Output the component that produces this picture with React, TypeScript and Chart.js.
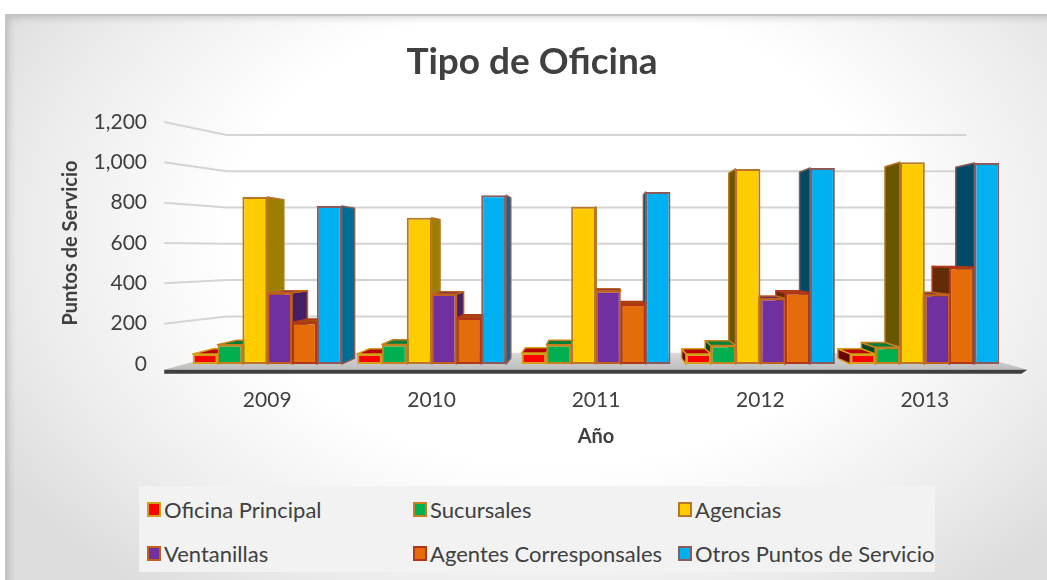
import React, { useEffect, useRef } from "react";
import { Chart, registerables } from "chart.js";

Chart.register(...registerables);

const FONT = "Lato, 'Open Sans', sans-serif";

const years = ["2009", "2010", "2011", "2012", "2013"];
const seriesNames = [
  "Oficina Principal",
  "Sucursales",
  "Agencias",
  "Ventanillas",
  "Agentes Corresponsales",
  "Otros Puntos de Servicio",
];
const oficinaPrincipal = [50, 50, 55, 50, 50];
const sucursales = [95, 97, 95, 92, 83];
const agencias = [828, 725, 780, 967, 1000];
const ventanillas = [353, 347, 363, 325, 345];
const agentesCorresponsales = [206, 228, 297, 353, 480];
const otrosPuntos = [783, 837, 853, 972, 997];
const yTicks = [0, 200, 400, 600, 800, 1000, 1200];

const seriesValues = [
  oficinaPrincipal,
  sucursales,
  agencias,
  ventanillas,
  agentesCorresponsales,
  otrosPuntos,
];
const fills = ["#FF0000", "#00B050", "#FFCC00", "#7030A0", "#E46C0A", "#00B0F0"];
const borders = ["#D4A017", "#C8801E", "#B8762A", "#C0601A", "#B0361A", "#8C5A5A"];

// perspective style constants
const VP_X = 0.505;
const VP_Y = 0.533;
const BAR_D = 0.05;
const WALL_D = 0.1;
const FLOOR_D = -0.05;

const shade = (hex: string, f: number) => {
  const n = parseInt(hex.slice(1), 16);
  const r = (n >> 16) & 255,
    g = (n >> 8) & 255,
    b = n & 255;
  return `rgb(${Math.round(r * f)},${Math.round(g * f)},${Math.round(b * f)})`;
};

const depthPlugin = {
  id: "depth3d",
  beforeDatasetsDraw(chart: any) {
    const { ctx, chartArea: ca, scales } = chart;
    const ys = scales.y;
    const vpx = ca.left + VP_X * (ca.right - ca.left);
    const vpy = ca.top + VP_Y * (ca.bottom - ca.top);
    const proj = (px: number, py: number, d: number) => [px + (vpx - px) * d, py + (vpy - py) * d];
    ctx.save();
    // back wall + side wall gridlines
    ctx.strokeStyle = "#d4d4d4";
    ctx.lineWidth = 2;
    yTicks.forEach((v) => {
      if (v === 0) return;
      const py = ys.getPixelForValue(v);
      const f = proj(ca.left, py, FLOOR_D);
      const b1 = proj(ca.left, py, WALL_D);
      const b2 = proj(ca.right, py, WALL_D);
      ctx.beginPath();
      ctx.moveTo(f[0], py);
      ctx.lineTo(b1[0], b1[1]);
      ctx.lineTo(b2[0], b2[1]);
      ctx.stroke();
    });
    // floor
    const base = ys.getPixelForValue(0);
    const fl = proj(ca.left, base, FLOOR_D);
    const fr = proj(ca.right, base, FLOOR_D);
    const br = proj(ca.right, base, WALL_D);
    const bl = proj(ca.left, base, WALL_D);
    const g = ctx.createLinearGradient(0, bl[1], 0, fl[1]);
    g.addColorStop(0, "#dadada");
    g.addColorStop(1, "#bdbdbd");
    ctx.fillStyle = g;
    ctx.beginPath();
    ctx.moveTo(fl[0], fl[1]);
    ctx.lineTo(fr[0], fr[1]);
    ctx.lineTo(br[0], br[1]);
    ctx.lineTo(bl[0], bl[1]);
    ctx.closePath();
    ctx.fill();
    ctx.fillStyle = "#3f3f3f";
    ctx.beginPath();
    ctx.moveTo(fl[0], fl[1]);
    ctx.lineTo(fr[0], fr[1]);
    ctx.lineTo(fr[0] - 6, fr[1] + 4);
    ctx.lineTo(fl[0], fl[1] + 4);
    ctx.closePath();
    ctx.fill();

    // 3D faces of bars
    const items: any[] = [];
    chart.data.datasets.forEach((_ds: any, i: number) => {
      chart.getDatasetMeta(i).data.forEach((el: any) => items.push({ el, i }));
    });
    items.sort((a, b) => Math.abs(b.el.x - vpx) - Math.abs(a.el.x - vpx));
    ctx.lineJoin = "round";
    items.forEach(({ el, i }) => {
      const { x, y: top, base: bot, width } = el.getProps(["x", "y", "base", "width"], true);
      const xl = x - width / 2;
      const xr = x + width / 2;
      ctx.strokeStyle = borders[i];
      ctx.lineWidth = 1.5;
      const face = (pts: number[][], color: string) => {
        ctx.fillStyle = color;
        ctx.beginPath();
        ctx.moveTo(pts[0][0], pts[0][1]);
        for (let k = 1; k < pts.length; k++) ctx.lineTo(pts[k][0], pts[k][1]);
        ctx.closePath();
        ctx.fill();
        ctx.stroke();
      };
      if (vpx > xr + 0.5) {
        face([[xr, top], [xr, bot], proj(xr, bot, BAR_D), proj(xr, top, BAR_D)], shade(fills[i], 0.62));
      } else if (vpx < xl - 0.5) {
        face([[xl, top], [xl, bot], proj(xl, bot, BAR_D), proj(xl, top, BAR_D)], shade(fills[i], 0.42));
      }
      if (vpy < top) {
        face([[xl, top], [xr, top], proj(xr, top, BAR_D), proj(xl, top, BAR_D)], shade(fills[i], 0.72));
      }
    });
    ctx.restore();
  },
};

export default function App() {
  const ref = useRef<HTMLCanvasElement>(null);
  useEffect(() => {
    const chart = new Chart(ref.current as HTMLCanvasElement, {
      type: "bar",
      data: {
        labels: years,
        datasets: seriesValues.map((d, i) => ({
          label: seriesNames[i],
          data: d,
          backgroundColor: fills[i],
          borderColor: borders[i],
          borderWidth: 2,
          borderSkipped: false,
          categoryPercentage: 0.906,
          barPercentage: 1,
        })),
      },
      options: {
        responsive: false,
        animation: false,
        devicePixelRatio: 1,
        layout: { padding: { left: 57, right: 67, top: 40, bottom: 31 } },
        plugins: {
          legend: { display: false },
          tooltip: { enabled: false },
          title: {
            display: true,
            text: "Tipo de Oficina",
            color: "#404040",
            font: { family: FONT, size: 37, weight: "bold" },
            padding: { top: 0, bottom: 37.6 },
          },
        },
        scales: {
          x: {
            grid: { display: false, drawTicks: false },
            border: { display: false },
            ticks: { color: "#404040", font: { family: FONT, size: 21 }, padding: 24 },
            title: {
              display: true,
              text: "Año",
              color: "#404040",
              font: { family: FONT, size: 20, weight: "bold" },
              padding: { top: 0, bottom: 0 },
            },
            afterFit: (s: any) => {
              s.height = 85;
            },
          },
          y: {
            min: 0,
            max: 1200,
            afterBuildTicks: (s: any) => {
              s.ticks = yTicks.map((v) => ({ value: v }));
            },
            grid: { display: false, drawTicks: false },
            border: { display: false },
            ticks: {
              color: "#404040",
              font: { family: FONT, size: 21 },
              padding: 38,
              callback: (v: any) => Number(v).toLocaleString("en-US"),
            },
            title: {
              display: true,
              text: "Puntos de Servicio",
              color: "#404040",
              font: { family: FONT, size: 20, weight: "bold" },
              padding: { top: 2, bottom: 0 },
            },
            afterFit: (s: any) => {
              s.width = 128;
            },
          },
        },
      } as any,
      plugins: [depthPlugin],
    });
    return () => chart.destroy();
  }, []);

  return (
    <div
      style={{
        position: "fixed",
        left: 0,
        top: 0,
        width: 1047,
        height: 580,
        overflow: "hidden",
        background: "#ffffff",
      }}
    >
      <div
        style={{
          position: "absolute",
          left: 5,
          top: 14,
          width: 1060,
          height: 580,
          boxSizing: "border-box",
          borderTop: "2px solid #c4c4c4",
          borderLeft: "2px solid #c4c4c4",
          background:
            "radial-gradient(ellipse 62% 80% at 52% 38%, #ffffff 50%, #ececec 80%, #dcdcdc 100%)",
          boxShadow: "inset 6px 6px 8px -5px rgba(0,0,0,0.18)",
        }}
      />
      <canvas
        ref={ref}
        width={1074}
        height={480}
        style={{ position: "absolute", left: 0, top: 0, width: 1074, height: 480 }}
      />
      <div
        style={{
          position: "absolute",
          left: 139,
          top: 486,
          width: 796,
          height: 86,
          background: "#f2f2f2",
          fontFamily: FONT,
          fontSize: 22,
          color: "#404040",
        }}
      >
        {seriesNames.map((name, i) => (
          <div
            key={name}
            style={{
              position: "absolute",
              left: [8, 274, 539][i % 3],
              top: i < 3 ? 9 : 53,
              height: 28,
              display: "flex",
              alignItems: "center",
              whiteSpace: "nowrap",
            }}
          >
            <span
              style={{
                display: "inline-block",
                width: 10,
                height: 11,
                background: fills[i],
                border: `2px solid ${borders[i]}`,
                marginRight: 3,
              }}
            />
            <span>{name}</span>
          </div>
        ))}
      </div>
    </div>
  );
}
